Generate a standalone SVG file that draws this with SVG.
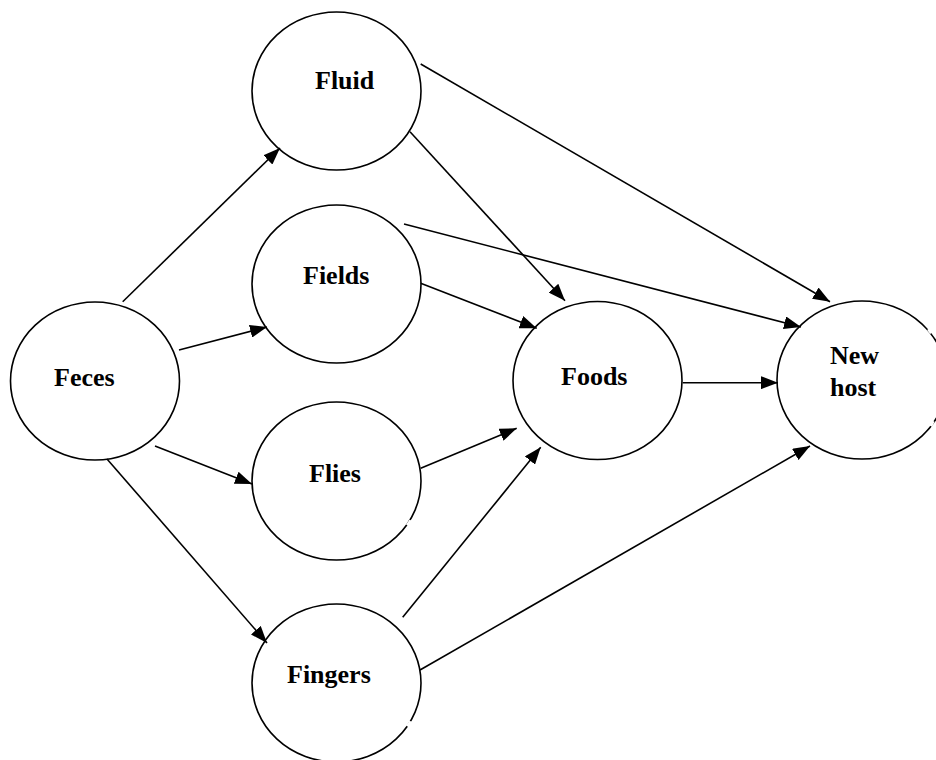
<svg xmlns="http://www.w3.org/2000/svg" width="936" height="760" viewBox="0 0 936 760">
<style>
.node ellipse{fill:#fff;stroke:#000;stroke-width:1.6}
.node text{font-family:"Liberation Serif","Times New Roman",serif;font-weight:bold;font-size:26px;fill:#000}
#edges line{stroke:#000;stroke-width:1.6;fill:none;marker-end:url(#ah)}
.gap{stroke:#fff;stroke-width:3.5}
</style>
<defs>
<marker id="ah" markerUnits="userSpaceOnUse" markerWidth="17" markerHeight="13" refX="17" refY="6.5" orient="auto" viewBox="0 0 17 13">
<path d="M0,0 L17,6.5 L0,13 Z" fill="#000"/>
</marker>
</defs>
<rect width="936" height="760" fill="#fff"/>
<g id="node-feces" class="node"><ellipse cx="95" cy="381" rx="84.5" ry="79"/><text x="54" y="386">Feces</text></g>
<g id="node-fluid" class="node"><ellipse cx="336.5" cy="91" rx="84.5" ry="79"/><text x="315" y="89">Fluid</text></g>
<g id="node-fields" class="node"><ellipse cx="336.5" cy="284" rx="84.5" ry="79"/><text x="303" y="284">Fields</text></g>
<g id="node-flies" class="node"><ellipse cx="336.5" cy="481" rx="84.5" ry="79"/><text x="309" y="482">Flies</text></g>
<g id="node-fingers" class="node"><ellipse cx="336.5" cy="683" rx="84.5" ry="79"/><text x="287" y="683">Fingers</text></g>
<g id="node-foods" class="node"><ellipse cx="597.5" cy="380.5" rx="84.5" ry="79"/><text x="561" y="385">Foods</text></g>
<g id="node-newhost" class="node"><ellipse cx="862" cy="380" rx="85" ry="79"/><text x="830" y="364">New</text><text x="830" y="396">host</text></g>
<g id="gaps">
<line class="gap" x1="411" y1="520.5" x2="407.5" y2="525.5"/>
<line class="gap" x1="411" y1="721.5" x2="407.5" y2="726.5"/>
<line class="gap" x1="928.5" y1="329" x2="931.5" y2="333"/>
<line class="gap" x1="933" y1="421" x2="930.5" y2="426"/>
</g>
<g id="edges">
<line x1="122.7" y1="301.7" x2="280" y2="148"/>
<line x1="179" y1="350" x2="267" y2="327"/>
<line x1="155" y1="446" x2="252" y2="484"/>
<line x1="107" y1="459" x2="267" y2="643"/>
<line x1="420.7" y1="64" x2="830" y2="301.7"/>
<line x1="410" y1="131.7" x2="565" y2="300.7"/>
<line x1="404" y1="224" x2="801" y2="327"/>
<line x1="420.7" y1="283.3" x2="536.7" y2="328.3"/>
<line x1="682.7" y1="382.7" x2="778" y2="382.7"/>
<line x1="420.7" y1="468.3" x2="516.7" y2="428.3"/>
<line x1="402.7" y1="617.3" x2="540.7" y2="447.3"/>
<line x1="420" y1="670" x2="810" y2="446"/>
</g>
</svg>
